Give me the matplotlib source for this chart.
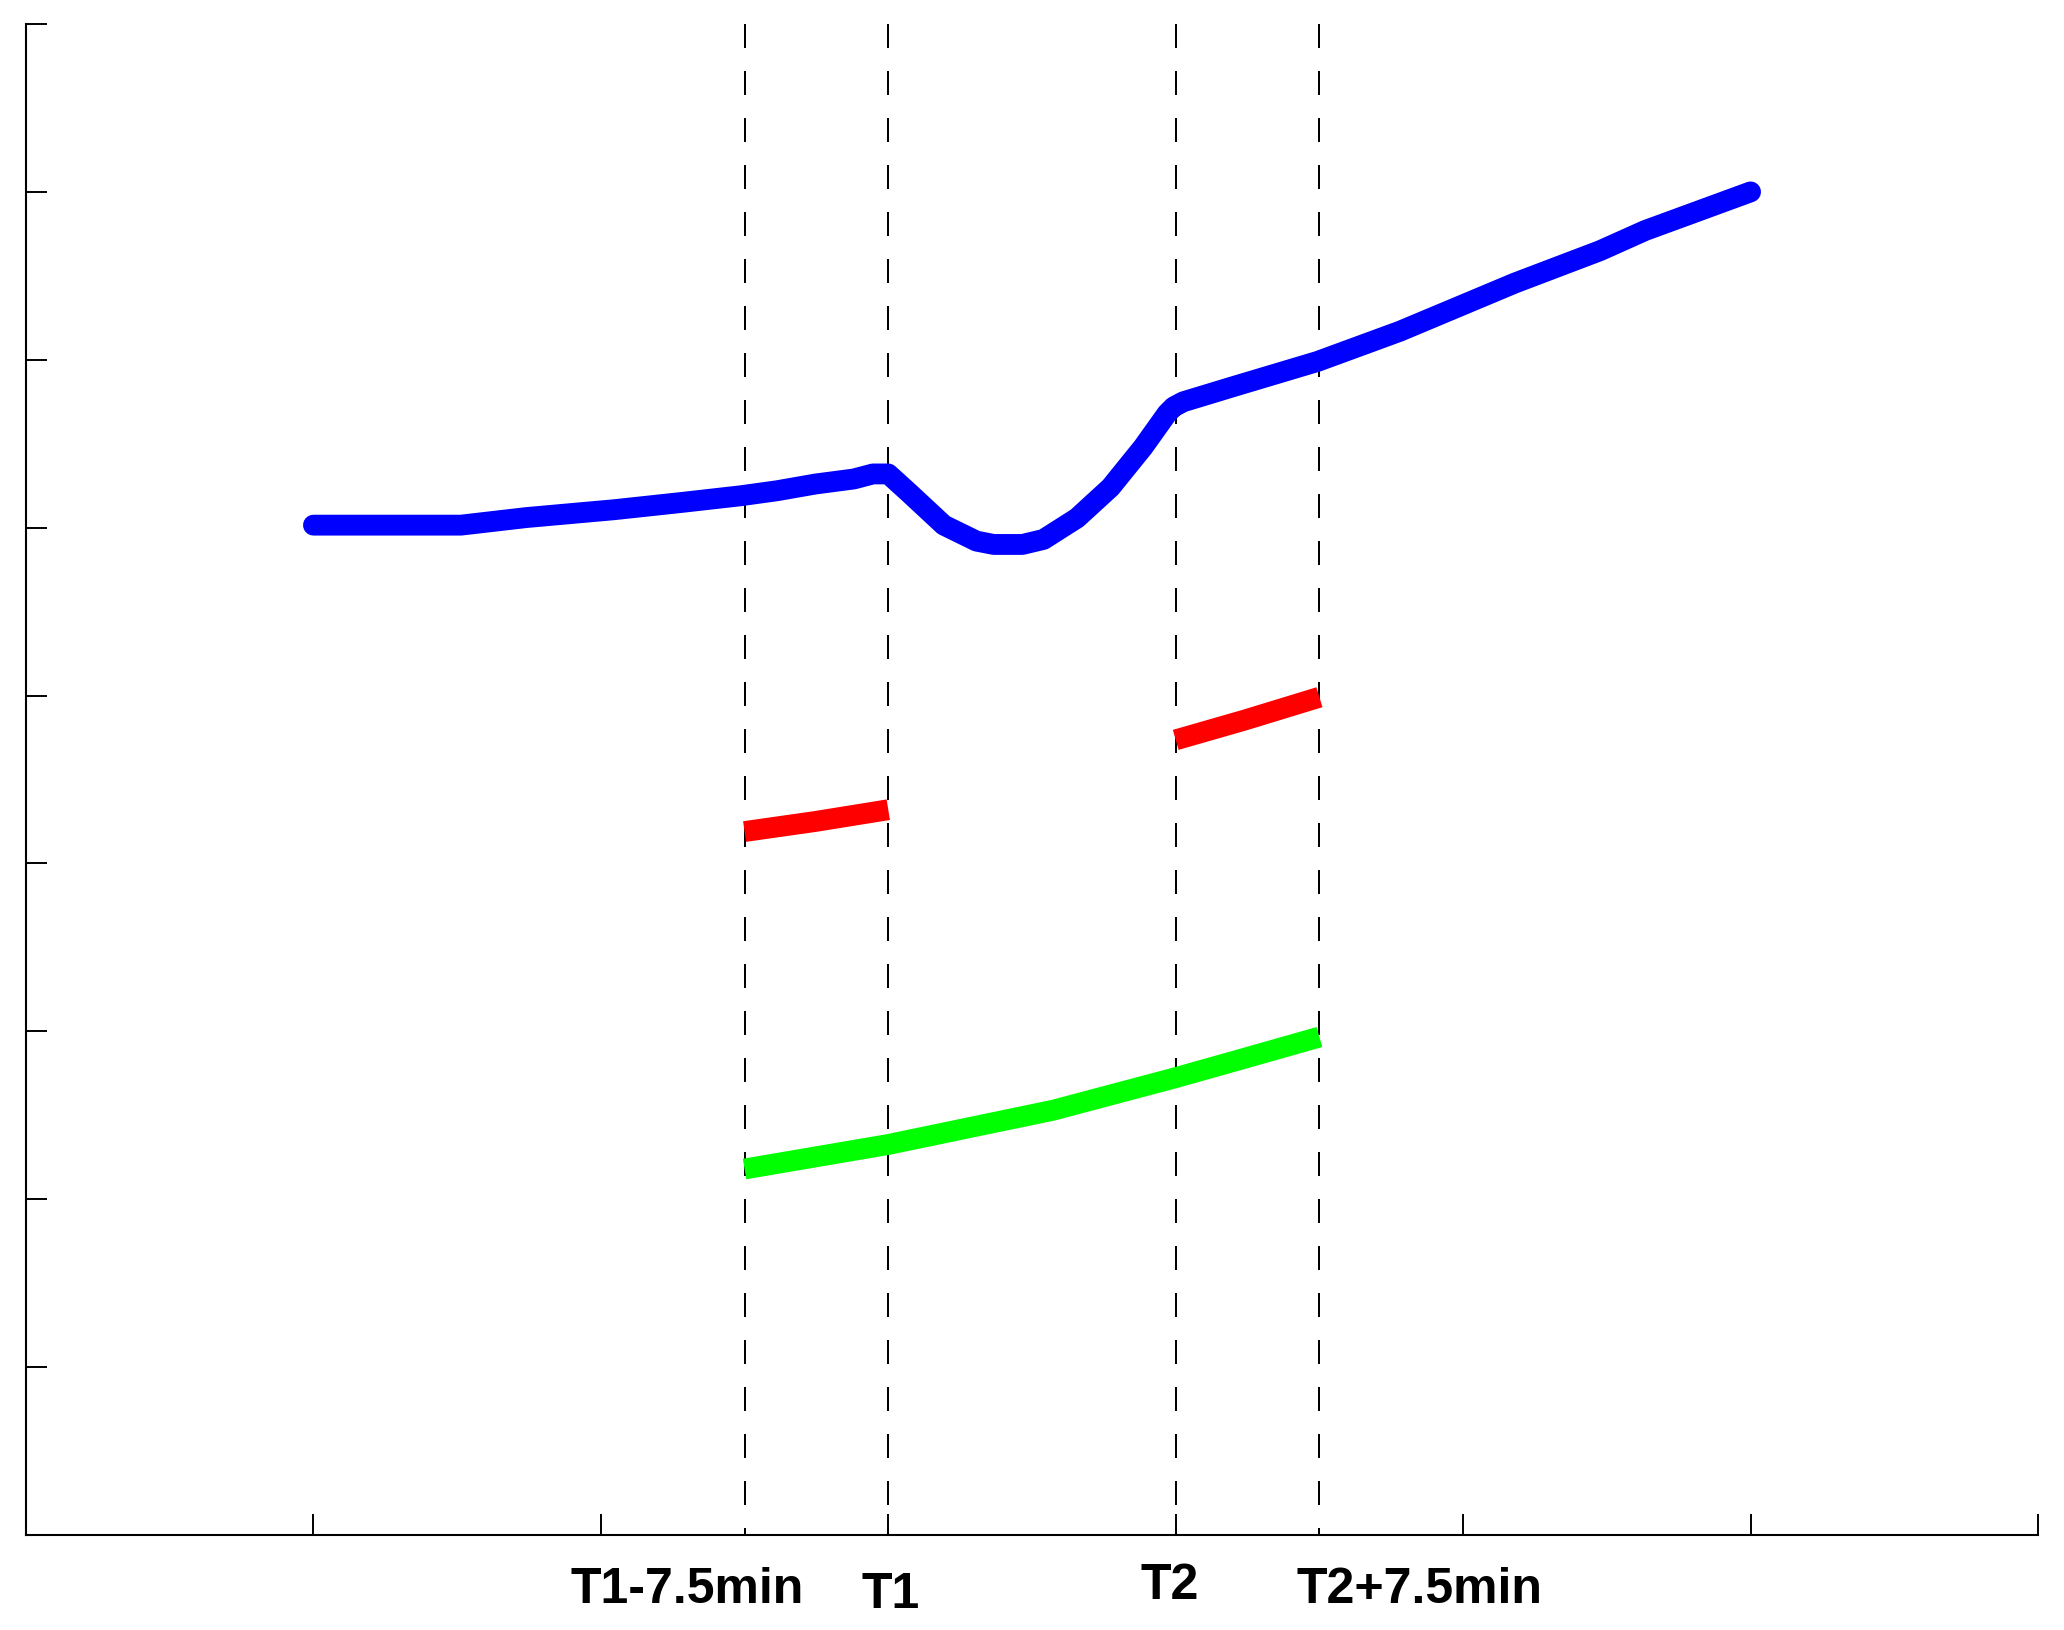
import matplotlib
matplotlib.use("Agg")
import matplotlib.pyplot as plt

# ---- data (x in minutes, y in axis units) ----
blue_x = [15.0, 22.7, 26.1, 30.7, 34.2, 37.3, 39.2, 41.2, 43.2, 44.2, 45.0,
          46.1, 47.9, 49.6, 50.5, 52.0, 53.1, 54.85, 56.6, 58.3, 59.55, 59.9,
          60.4, 63.0, 67.4, 71.7, 77.7, 82.15, 84.5, 90.0]
blue_y = [6.015, 6.015, 6.06, 6.107, 6.15, 6.19, 6.22, 6.26, 6.29, 6.32, 6.32,
          6.206, 6.015, 5.92, 5.90, 5.90, 5.93, 6.057, 6.24, 6.48, 6.68, 6.72,
          6.75, 6.84, 6.99, 7.17, 7.457, 7.65, 7.77, 8.0]

red1_x = [37.5, 41.2, 45.0]
red1_y = [4.19, 4.25, 4.32]
red2_x = [60.0, 63.6, 67.5]
red2_y = [4.736, 4.854, 4.99]

green_x = [37.5, 45.0, 53.6, 60.0, 63.3, 67.5]
green_y = [2.18, 2.326, 2.53, 2.724, 2.83, 2.966]

event_x = [37.5, 45.0, 60.0, 67.5]
event_labels = ["T1-7.5min", "T1", "T2", "T2+7.5min"]

x_ticks = [0, 15, 30, 45, 60, 75, 90, 105]
y_ticks = [0, 1, 2, 3, 4, 5, 6, 7, 8, 9]

# ---- figure ----
fig = plt.figure(figsize=(20.64, 16.30), dpi=100)
ax = fig.add_axes([26 / 2064, 1 - 1535 / 1630, (2038 - 26) / 2064, (1535 - 24) / 1630])

for xv in event_x:
    # dashes start at the top of the axes
    ax.axvline(xv, ymin=1, ymax=0, color="black", linewidth=1.4,
               linestyle=(0, (12.3, 12.3)), antialiased=False, zorder=1)

lw = 15
ax.plot(blue_x, blue_y, color="#0000ff", linewidth=lw, solid_capstyle="round",
        solid_joinstyle="round", zorder=3)
ax.plot(red1_x, red1_y, color="#ff0000", linewidth=lw, solid_capstyle="butt",
        solid_joinstyle="round", zorder=3)
ax.plot(red2_x, red2_y, color="#ff0000", linewidth=lw, solid_capstyle="butt",
        solid_joinstyle="round", zorder=3)
ax.plot(green_x, green_y, color="#00ff00", linewidth=lw, solid_capstyle="butt",
        solid_joinstyle="round", zorder=3)

ax.set_xlim(0, 105)
ax.set_ylim(0, 9)
ax.set_xticks(x_ticks)
ax.set_yticks(y_ticks)
ax.set_xticklabels([])
ax.set_yticklabels([])
ax.tick_params(direction="in", length=15, width=1.4, color="black")
for s in ["top", "right"]:
    ax.spines[s].set_visible(False)
for s in ["left", "bottom"]:
    ax.spines[s].set_linewidth(1.5)

label_dx = [-3.0, 0.1, -0.3, 5.2]
label_y = [-0.325, -0.357, -0.306, -0.325]
for xv, t, dx, yv in zip(event_x, event_labels, label_dx, label_y):
    ax.text(xv + dx, yv, t, ha="center", va="center", fontsize=36,
            fontweight="bold", family="Liberation Sans", clip_on=False)

fig.savefig("out.png", dpi=100)
